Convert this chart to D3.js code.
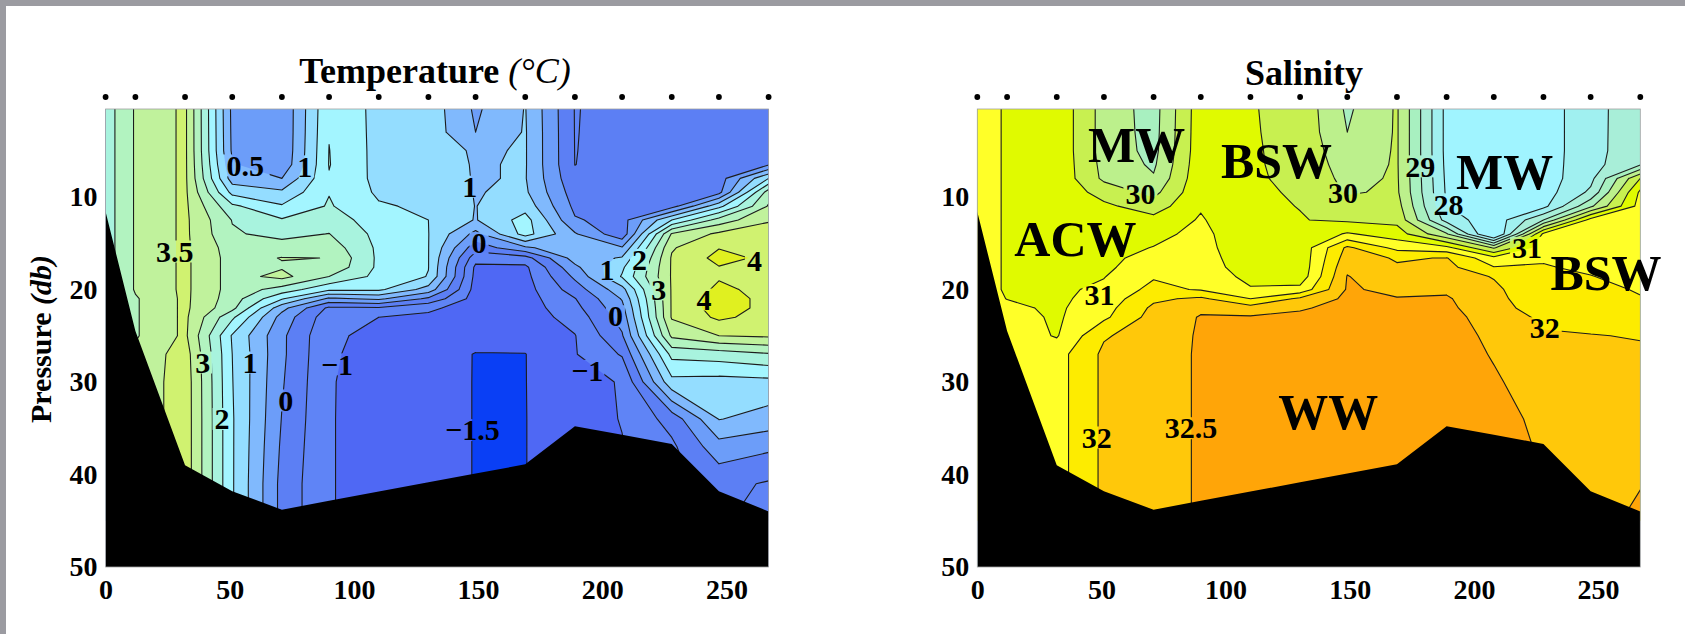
<!DOCTYPE html>
<html>
<head>
<meta charset="utf-8">
<script src="https://cdn.jsdelivr.net/npm/d3@7"></script>
<style>
  html, body { margin: 0; background: #fff; }
  svg { display: block; font-family: "Liberation Serif", serif; font-weight: bold; }
  .tick text { font-size: 28px; fill: #000; }
  .title { font-size: 36px; text-anchor: middle; }
  .clabel { font-size: 30px; text-anchor: middle; }
  .water { font-size: 50px; text-anchor: middle; }
</style>
</head>
<body>
<svg id="chart" width="1685" height="634"></svg>
<script>
const stations = [0, 12, 32, 51, 71, 90, 110, 130, 149, 169, 189, 208, 228, 247, 267];
const depths = [0.5, 3, 5, 6.5, 8, 9.5, 11, 12.5, 14, 15.5, 16.6, 17.6, 18.6, 20, 21, 22, 23, 25, 27, 30, 34, 37, 41, 45];
const bottomDepth = [11.6, 24.5, 39, 41.8, 43.8, 42.85, 41.85, 40.85, 39.9, 38.9, 34.8, 35.7, 36.7, 41.8, 44];
const xTicks = [0, 50, 100, 150, 200, 250];
const yTicks = [10, 20, 30, 40, 50];

// one row per depth, one column per station
const temperature = [
  [2.25, 3.05, 3.6, 0.38, 0.04, 1.95, 1.34, 1.3, 0.42, 1.02, -0.52, -0.35, -0.32, -0.3, -0.4],
  [2.25, 3.05, 3.6, 0.4, 0.04, 1.98, 1.34, 1.3, 0.5, 1.04, -0.515, -0.35, -0.32, -0.3, -0.35],
  [2.25, 3.05, 3.6, 0.42, 0.05, 2.01, 1.34, 1.28, 0.93, 1.04, -0.51, -0.35, -0.32, -0.3, -0.3],
  [2.25, 3.05, 3.6, 0.55, 0.1, 2.02, 1.34, 1.26, 0.96, 1.04, -0.505, -0.33, -0.3, -0.28, -0.05],
  [2.25, 3.05, 3.6, 0.75, 0.5, 1.97, 1.36, 1.25, 0.97, 1.03, -0.4, -0.3, -0.3, -0.25, 1.5],
  [2.25, 3.05, 3.6, 1.35, 1.1, 1.98, 1.42, 1.3, 0.98, 1.08, -0.25, -0.28, -0.35, -0.15, 2.75],
  [2.25, 3.05, 3.6, 2.1, 1.55, 2.05, 1.55, 1.42, 0.99, 1.3, -0.12, -0.25, -0.2, 1.35, 3.05],
  [2.25, 3.05, 3.6, 2.48, 2.05, 2.25, 1.75, 1.5, 0.97, 1.7, 0.05, -0.2, 1.5, 2.7, 3.47],
  [2.25, 3.05, 3.6, 2.55, 2.37, 2.51, 1.85, 1.51, 0.35, 1.7, 0.55, -0.34, 3.05, 3.6, 3.65],
  [2.25, 3.05, 3.6, 2.75, 2.7, 2.78, 1.9, 1.51, -0.3, 0.4, 0.92, 0.55, 3.45, 3.98, 3.8],
  [2.25, 3.05, 3.6, 2.8, 3.02, 2.995, 1.9, 1.51, -0.8, -0.7, 0.72, 1.05, 3.55, 4.15, 3.9],
  [2.25, 3.05, 3.6, 2.8, 2.95, 2.9, 1.9, 1.51, -1.1, -1.1, 0.39, 1.4, 3.55, 3.98, 3.82],
  [2.25, 3.05, 3.6, 2.8, 3.15, 2.5, 1.85, 1.48, -1.15, -1.15, 0.1, 1.55, 3.55, 3.95, 3.8],
  [2.25, 3.05, 3.6, 2.8, 2.3, 1.6, 1.6, 0.8, -1.2, -1.2, -0.25, 0.82, 3.55, 4.1, 3.85],
  [2.25, 2.95, 3.6, 2.75, 1.55, 0.4, 0.6, -0.1, -1.22, -1.22, -0.52, 0.54, 3.55, 4.25, 3.85],
  [2.25, 2.95, 3.6, 2.65, 0.67, -0.6, -0.55, -0.9, -1.25, -1.25, -0.65, 0.35, 3.55, 4.25, 3.85],
  [2.25, 2.95, 3.6, 2.1, 0.3, -0.8, -1.0, -1.1, -1.27, -1.27, -0.8, 0.2, 3.55, 4.1, 3.8],
  [2.25, 2.95, 3.6, 1.45, 0.1, -0.92, -1.12, -1.2, -1.3, -1.3, -1.02, -0.05, 3.1, 3.5, 3.58],
  [2.25, 3.1, 3.75, 1.5, 0.1, -0.95, -1.15, -1.25, -1.52, -1.51, -1.03, -0.45, 2.15, 2.25, 2.45],
  [2.25, 3.1, 3.8, 1.52, 0.05, -0.97, -1.18, -1.27, -1.52, -1.51, -1.1, -0.98, 1.35, 1.3, 1.35],
  [2.25, 3.1, 3.8, 1.55, -0.02, -0.97, -1.2, -1.27, -1.52, -1.51, -1.2, -0.98, -0.3, 1.02, 0.8],
  [2.25, 3.1, 3.8, 1.55, -0.08, -0.97, -1.2, -1.27, -1.52, -1.51, -1.2, -1.02, -0.6, 0.3, 0.1],
  [2.25, 3.1, 3.8, 1.55, -0.15, -0.97, -1.2, -1.27, -1.52, -1.51, -1.2, -1.02, -0.6, -0.35, -0.55],
  [2.25, 3.1, 3.8, 1.55, -0.15, -0.97, -1.2, -1.27, -1.52, -1.51, -1.2, -1.02, -0.6, -0.45, -0.65]
];

const salinity = [
  [31.2, 30.95, 30.88, 29.8, 29.3, 30.8, 30.53, 30.35, 29.42, 30.05, 27.85, 27.6, 27.76, 28.3, 28.86],
  [31.2, 30.95, 30.88, 29.8, 29.32, 30.81, 30.54, 30.35, 29.5, 30.05, 27.85, 27.6, 27.76, 28.3, 28.87],
  [31.2, 30.95, 30.88, 29.8, 29.35, 30.82, 30.55, 30.36, 29.65, 30.05, 27.85, 27.6, 27.76, 28.3, 28.88],
  [31.2, 30.95, 30.88, 29.85, 29.42, 30.85, 30.55, 30.38, 29.75, 30.05, 27.87, 27.6, 27.76, 28.32, 28.95],
  [31.2, 30.95, 30.88, 29.9, 29.55, 30.88, 30.56, 30.4, 29.85, 30.06, 27.9, 27.6, 27.76, 28.35, 30.5],
  [31.2, 30.95, 30.88, 30.3, 29.85, 30.9, 30.58, 30.45, 29.95, 30.08, 27.93, 27.6, 27.76, 28.6, 31.1],
  [31.2, 30.95, 30.88, 30.6, 30.25, 30.95, 30.58, 30.49, 30.2, 30.2, 28.02, 27.6, 27.85, 29.4, 31.2],
  [31.2, 30.95, 30.88, 30.7, 30.65, 31.05, 30.57, 30.52, 30.42, 30.35, 28.3, 27.65, 29.0, 31.2, 31.25],
  [31.2, 30.95, 30.88, 30.75, 30.85, 31.15, 30.58, 30.62, 31.05, 30.75, 29.55, 27.2, 31.1, 31.3, 31.3],
  [31.2, 30.95, 30.88, 30.8, 31.02, 31.2, 30.6, 30.65, 32.1, 31.35, 31.15, 29.95, 31.3, 31.35, 31.32],
  [31.2, 30.95, 30.88, 30.85, 31.2, 31.25, 30.65, 30.65, 32.25, 31.95, 32.02, 31.15, 31.47, 31.4, 31.35],
  [31.2, 30.95, 30.88, 30.9, 31.3, 31.3, 30.7, 30.65, 32.4, 32.05, 32.15, 31.52, 31.52, 31.45, 31.38],
  [31.2, 30.95, 30.88, 30.98, 31.45, 31.35, 30.85, 30.7, 32.52, 32.15, 32.25, 31.97, 31.55, 31.51, 31.4],
  [31.2, 30.95, 30.9, 31.1, 31.65, 31.45, 31.05, 31.15, 32.55, 32.4, 32.42, 32.1, 31.6, 31.6, 31.47],
  [31.2, 30.99, 30.9, 31.2, 31.9, 32.1, 31.5, 32.1, 32.6, 32.52, 32.55, 32.15, 31.65, 31.65, 31.52],
  [31.2, 31.1, 30.92, 31.3, 32.1, 32.42, 32.2, 32.45, 32.65, 32.6, 32.6, 32.2, 31.75, 31.7, 31.6],
  [31.2, 31.2, 30.93, 31.4, 32.2, 32.53, 32.55, 32.6, 32.7, 32.65, 32.65, 32.3, 31.9, 31.8, 31.7],
  [31.2, 31.3, 30.96, 31.95, 32.25, 32.55, 32.65, 32.65, 32.75, 32.7, 32.7, 32.4, 32.05, 32.02, 31.97],
  [31.2, 31.3, 31.3, 32.1, 32.3, 32.55, 32.7, 32.7, 32.8, 32.75, 32.7, 32.47, 32.2, 32.1, 32.08],
  [31.2, 31.3, 31.3, 32.1, 32.3, 32.55, 32.7, 32.7, 32.8, 32.75, 32.7, 32.55, 32.3, 32.2, 32.15],
  [31.2, 31.3, 31.3, 32.1, 32.3, 32.55, 32.7, 32.7, 32.8, 32.75, 32.7, 32.65, 32.4, 32.25, 32.25],
  [31.2, 31.3, 31.3, 32.1, 32.3, 32.55, 32.7, 32.7, 32.8, 32.75, 32.7, 32.68, 32.45, 32.3, 32.35],
  [31.2, 31.3, 31.3, 32.1, 32.3, 32.55, 32.7, 32.7, 32.8, 32.75, 32.7, 32.68, 32.45, 32.35, 32.49],
  [31.2, 31.3, 31.3, 32.1, 32.3, 32.55, 32.7, 32.7, 32.8, 32.75, 32.7, 32.68, 32.45, 32.42, 32.55]
];

const tempLevels = [-1.5, -1, -0.5, 0, 0.5, 1, 1.5, 2, 2.5, 3, 3.5, 4];
const tempColors = ['#0a3ff5', '#4f68f4', '#5f84f6', '#5c7ff4', '#6c9df9', '#80b9fd', '#94ddff', '#a3f5ff', '#a8f3de', '#b2f3c0', '#c0f29c', '#d0f270', '#e0f020'];
const salLevels = [28, 28.5, 29, 29.5, 30, 30.5, 31, 31.5, 32, 32.5];
const salColors = ['#a0f4ff', '#a0f0f0', '#a8eed8', '#a8f0c0', '#bcf08c', '#c8f050', '#e0fa00', '#ffff28', '#fdec00', '#ffc80a', '#ffa508'];

// label, km, db
const tempLabels = [
  ['3.5', 27.8, 15.9], ['0.5', 56.2, 6.6], ['1', 80.2, 6.7], ['1', 146.7, 8.9], ['0', 150.4, 15],
  ['1', 201.9, 17.9], ['2', 215, 16.8], ['3', 222.8, 20], ['4', 261.3, 16.9], ['4', 241, 21.1],
  ['0', 205.3, 22.9], ['3', 39.1, 27.9], ['1', 58.2, 27.9], ['\u22121', 93.2, 28.1], ['0', 72.6, 32],
  ['2', 46.9, 34], ['\u22121', 194, 28.8], ['\u22121.5', 147.7, 35.2]
];
const salLabels = [
  ['30', 65.7, 9.7], ['30', 147.3, 9.6], ['29', 178.4, 6.7], ['28', 189.8, 10.8], ['31', 221.4, 15.5],
  ['32', 228.5, 24.2], ['31', 49.2, 20.6], ['32', 48.1, 36], ['32.5', 86.1, 35]
];
const waterMasses = [
  ['MW', 64.2, 4.4], ['BSW', 120.5, 6.1], ['MW', 212.4, 7.3], ['ACW', 39.5, 14.5], ['BSW', 253.2, 18.2], ['WW', 141.3, 33.2]
];

const svg = d3.select('#chart');
const plotWidth = 663;
const plotHeight = 458;
const plotTop = 109;

svg.append('rect').attr('width', 1685).attr('height', 6).attr('fill', '#9b9ba1');
svg.append('rect').attr('width', 6).attr('height', 634).attr('fill', '#9b9ba1');

const x = d3.scaleLinear().domain([0, 267]).range([0, plotWidth]);
const y = d3.scaleLinear().domain([0.5, 50]).range([0, plotHeight]);

// grid index -> km / db (d3.contours puts node i at i + .5)
const kmOf = d3.scaleLinear().domain(stations.map((d, i) => i + 0.5)).range(stations).clamp(true);
const dbOf = d3.scaleLinear().domain(depths.map((d, i) => i + 0.5)).range(depths).clamp(true);

const drawPanel = (id, left, grid, levels, colors, labels) => {
  const g = svg.append('g').attr('transform', `translate(${left} ${plotTop})`);

  svg.append('clipPath').attr('id', id)
    .append('rect').attr('width', plotWidth).attr('height', plotHeight);

  // contour lines stop at their labels, as clabel does
  const mask = svg.append('mask')
    .attr('id', id + 'Gaps')
    .attr('maskUnits', 'userSpaceOnUse')
    .attr('x', 0).attr('y', 0).attr('width', plotWidth).attr('height', plotHeight);
  mask.append('rect').attr('width', plotWidth).attr('height', plotHeight).attr('fill', '#fff');
  mask.selectAll('rect.gap')
    .data(labels)
    .enter()
    .append('rect')
    .attr('class', 'gap')
    .attr('x', d => x(d[1]) - d[0].length * 7.5 - 2)
    .attr('y', d => y(d[2]) - 11)
    .attr('width', d => d[0].length * 15 + 4)
    .attr('height', 22)
    .attr('fill', '#000');

  const plot = g.append('g').attr('clip-path', `url(#${id})`);

  plot.append('rect')
    .attr('width', plotWidth)
    .attr('height', plotHeight)
    .attr('fill', colors[0]);

  const contours = d3.contours()
    .size([stations.length, depths.length])
    .thresholds(levels)
    (grid.flat());

  const project = d3.geoTransform({
    point(px, py) { this.stream.point(x(kmOf(px)), y(dbOf(py))); }
  });

  plot.selectAll('path.band')
    .data(contours)
    .enter()
    .append('path')
    .attr('class', 'band')
    .attr('d', d3.geoPath(project))
    .attr('fill', (d, i) => colors[i + 1]);

  // leave out the pieces that only run along the grid edge
  const lastKm = stations[stations.length - 1];
  const lastDb = depths[depths.length - 1];
  const onEdge = (a, b) =>
    (a[0] === b[0] && (a[0] === 0 || a[0] === lastKm)) ||
    (a[1] === b[1] && (a[1] === depths[0] || a[1] === lastDb));

  const lines = plot.append('g').attr('mask', `url(#${id}Gaps)`);

  contours.forEach(c => {
    let d = '';
    c.coordinates.forEach(poly => poly.forEach(ring => {
      const pts = ring.map(p => [kmOf(p[0]), dbOf(p[1])]);
      pts.forEach((p, i) => {
        if (i === 0) return;
        if (onEdge(pts[i - 1], p)) return;
        d += `M${x(pts[i - 1][0])},${y(pts[i - 1][1])}L${x(p[0])},${y(p[1])}`;
      });
    }));
    lines.append('path')
      .attr('d', d)
      .attr('fill', 'none')
      .attr('stroke', '#1c1c1c')
      .attr('stroke-width', 1.1)
      .attr('stroke-linecap', 'round');
  });

  const seabed = d3.area()
    .x((d, i) => x(stations[i]))
    .y0(plotHeight)
    .y1(d => y(d));

  plot.append('path')
    .datum(bottomDepth)
    .attr('d', seabed)
    .attr('fill', '#000');

  g.append('rect')
    .attr('width', plotWidth)
    .attr('height', plotHeight)
    .attr('fill', 'none')
    .attr('stroke', '#a0a0a0')
    .attr('stroke-width', 0.8);

  const xAxis = d3.axisBottom(x).tickValues(xTicks).tickSize(0).tickPadding(12);
  const yAxis = d3.axisLeft(y).tickValues(yTicks).tickSize(0).tickPadding(8);

  const xAxisG = g.append('g').attr('transform', `translate(0 ${plotHeight})`).call(xAxis);
  const yAxisG = g.append('g').call(yAxis);
  xAxisG.select('.domain').remove();
  yAxisG.select('.domain').remove();
  xAxisG.attr('font-family', null).attr('font-size', null);
  yAxisG.attr('font-family', null).attr('font-size', null);

  g.selectAll('circle.station')
    .data(stations)
    .enter()
    .append('circle')
    .attr('class', 'station')
    .attr('cx', d => x(d))
    .attr('cy', -12)
    .attr('r', 2.9)
    .attr('fill', '#000');

  g.selectAll('text.clabel')
    .data(labels)
    .enter()
    .append('text')
    .attr('class', 'clabel')
    .attr('x', d => x(d[1]))
    .attr('y', d => y(d[2]))
    .attr('dy', '.34em')
    .text(d => d[0]);

  return g;
};

const tempPanel = drawPanel('clipT', 105.6, temperature, tempLevels, tempColors, tempLabels);
const salPanel = drawPanel('clipS', 977.3, salinity, salLevels, salColors, salLabels);

salPanel.selectAll('text.water')
  .data(waterMasses)
  .enter()
  .append('text')
  .attr('class', 'water')
  .attr('x', d => x(d[1]))
  .attr('y', d => y(d[2]))
  .attr('dy', '.34em')
  .text(d => d[0]);

const tempTitle = svg.append('text')
  .attr('class', 'title')
  .attr('x', 435)
  .attr('y', 83);
tempTitle.append('tspan').text('Temperature ');
tempTitle.append('tspan').attr('font-style', 'italic').attr('font-weight', 'normal').text('(\u00b0C)');

svg.append('text')
  .attr('class', 'title')
  .attr('x', 1304)
  .attr('y', 85)
  .text('Salinity');

const yLabel = svg.append('text')
  .attr('transform', 'translate(51 339) rotate(-90)')
  .attr('text-anchor', 'middle')
  .attr('font-size', 30);
yLabel.append('tspan').text('Pressure ');
yLabel.append('tspan').attr('font-style', 'italic').text('(db)');
</script>
</body>
</html>
